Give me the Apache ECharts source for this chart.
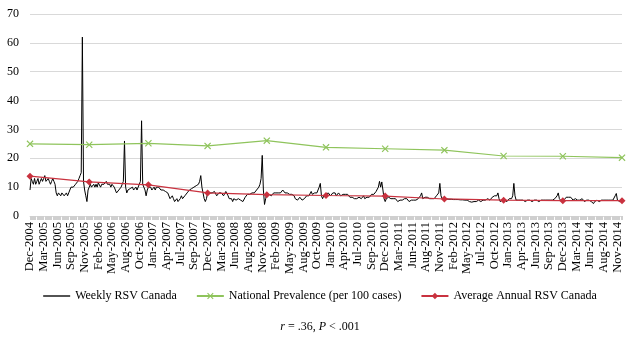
<!DOCTYPE html>
<html>
<head>
<meta charset="utf-8">
<script src="https://cdn.jsdelivr.net/npm/echarts@6/dist/echarts.min.js"></script>
<style>
html,body{margin:0;padding:0;background:#fff;}
#chart{width:640px;height:342px;}
</style>
</head>
<body>
<div id="chart"></div>
<script>
// Tick labels shown on the x axis (every 12th week)
const tickLabels = ["Dec-2004","Mar-2005","Jun-2005","Sep-2005","Nov-2005","Feb-2006","May-2006","Aug-2006","Oct-2006","Jan-2007","Apr-2007","Jul-2007","Sep-2007","Dec-2007","Mar-2008","Jun-2008","Aug-2008","Nov-2008","Feb-2009","May-2009","Aug-2009","Oct-2009","Jan-2010","Apr-2010","Jul-2010","Sep-2010","Dec-2010","Mar-2011","Jun-2011","Aug-2011","Nov-2011","Feb-2012","May-2012","Jul-2012","Oct-2012","Jan-2013","Apr-2013","Jun-2013","Sep-2013","Dec-2013","Mar-2014","Jun-2014","Aug-2014","Nov-2014"];

// Weekly RSV Canada, one array per 52-week block
const weeklyY1 = [9,13,12,11,13,11,12,13,11,12,13,12,13,14,12,12,13,12,11,12,13,12,11,
  8,7,8,7.5,7,8,8,7,7.5,8,7,8,9,10,
  10,10,10.5,11,11,12,13,14,
  15,62,12,9,7,5,9];
const weeklyY2 = [10,11,10,10.5,11,10,11,10,11.5,11,10,11,10.5,11,11,12,11,10.5,11,10,11,11.5,10,9,
  8,8,9,9,10,11,12,
  26,10,
  8,9,8.5,9.5,9,10,9,9.5,10,9,10,10.5,
  12,33,11,
  10,9,7,9];
const weeklyY3 = [10,9.5,10,9,9.5,10,9,10,9.5,10,10,9,9.5,9,8.5,8.5,9,8,7.5,
  6,6.5,7,6,5,5.5,6,5,5.5,6,7,6,6.5,7,7.5,8,8.5,9,9,
  9.5,9,10,10,10.5,10,11,12,
  14,10,8,6,5,6];
const weeklyY4 = [8,8.5,8,7.5,8,8,8.5,8,7,7.5,8,8.5,8,7.5,
  7,7.5,8.5,8,7,6,5.5,6,5,6,6.5,5.5,5,6,6.5,5.5,6,5,5.5,6.5,7,7.5,7,7.5,8,8,8.5,8,8.5,9,9.5,10,11,13,
  21,9,4,6];
const weeklyY5 = [7.5,8,7.5,8,7,7.5,8,8.5,8,7.5,8,8.5,8,8.5,9,8.5,8,7.5,8,8,7.5,7,7.5,8,7,
  6,6,5.5,6,6.5,6,5.5,6,6,6.5,7,6.5,7,
  7.5,8.5,7.5,7,8,7.5,8,9,10,11.3,
  7,6,7,7];
const weeklyY6 = [7.5,7,8,7.5,7,7.5,8,7.5,8,7,7.5,8,7.5,7,7.5,7.5,8,7.5,7,7.5,7,6.5,6,6.5,6,6,
  6.5,6,6,6.5,6,6,6.5,7,6,6,6.5,6,6.5,7,
  7.5,8,7.5,8,8.5,9,10,
  12,10,11.8,9,6];
const weeklyY7 = [5,6,
  6,6.5,6,6,6.5,6,6.5,6,5.5,5,5,5.5,5,5.5,6,6,6.5,6,5.5,5,5,5.5,6,5.5,5,5.5,5,6,6.5,7,
  8,6,
  6,6.5,6,6.5,6.5,6,6.5,6,6.5,6,6.5,7,7.5,8,
  11.3,7,6,5.5];
const weeklyY8 = [5.9,
  5.9,5.9,5.8,5.8,5.8,5.8,5.8,5.7,5.7,5.7,5.7,5.7,5.7,5.6,5.6,5.6,5.6,5.5,
  5.5,5.5,5,5,5,4.8,5,5,5,5,5.5,5.5,5,5,5.5,5.5,5,5.5,5.5,6,6,5.5,6,6.5,6,7,6.5,7,
  8,6,5,
  5.5,5.5];
const weeklyY9 = [5,5.5,5.5,5,5.5,6,5.5,6,7,
  11.3,7,5.5,
  5.5,5.5,5,5.5,5,5.5,5.5,5,5,5.5,5,5.5,5.5,5,5.5,5.5,6,5.5,5.5,5,
  5,5.5,5,5.5,5,5.5,5.5,5.5,6,5.5,6,5.5,6,6,6.5,
  7,8,6,5.5,5];
const weeklyY10 = [5,
  5.5,6,6.5,6,6.5,6,6.5,6,5.5,5.5,6,
  5.5,5.5,5,5.5,5.5,6,5.5,5,5.5,5.5,5,5.5,5,5,4.5,
  4.3,5,
  5.5,5.5,5.5,5,5.5,5.5,5.5,5.5,5.5,5.5,5,5.5,5.5,5.5,5.5,5.5,6,
  7,7.8,5.5,5.5,5,5,5.5];

// Yearly values (one per 52 weeks, starting at the first week)
const nationalPrevalence = [25.0, 24.7, 25.2, 24.3, 26.1, 23.8, 23.3, 22.8, 20.8, 20.7, 20.2];
const averageAnnualRSV   = [13.8, 11.8, 10.8, 8.0, 7.4, 7.1, 6.9, 5.9, 5.5, 5.3, 5.3];

const weekly = [].concat(weeklyY1, weeklyY2, weeklyY3, weeklyY4, weeklyY5,
                         weeklyY6, weeklyY7, weeklyY8, weeklyY9, weeklyY10);
const categories = weekly.map((_, i) => String(i));
function yearly(vals) {
  const arr = new Array(weekly.length).fill(null);
  vals.forEach((v, k) => { const idx = Math.min(k * 52, weekly.length - 1); arr[idx] = v; });
  return arr;
}

const FONT = '"Liberation Serif", "Times New Roman", serif';
const chart = echarts.init(document.getElementById('chart'), null, {renderer: 'canvas'});
const crossPath = 'path://M0,1.2L1.2,0L5,3.8L8.8,0L10,1.2L6.2,5L10,8.8L8.8,10L5,6.2L1.2,10L0,8.8L3.8,5Z';
const linePath = 'path://M0,0L40,0L40,2L0,2Z';

chart.setOption({
  animation: false,
  backgroundColor: '#fff',
  textStyle: {fontFamily: FONT},
  grid: {left: 30, right: 18, top: 14, bottom: 126, containLabel: false},
  title: {
    text: '{i|r} = .36, {i|P} < .001',
    left: 'center', top: 316,
    textStyle: {
      fontFamily: FONT, fontSize: 12, fontWeight: 'normal', color: '#000',
      rich: {i: {fontFamily: FONT, fontSize: 12, fontStyle: 'italic', color: '#000'}}
    }
  },
  legend: {
    bottom: 35, left: 'center',
    itemWidth: 27, itemHeight: 8, itemGap: 19,
    textStyle: {fontFamily: FONT, fontSize: 12, color: '#000'},
    data: [
      {name: 'Weekly RSV Canada', icon: linePath, itemStyle: {color: '#000'}},
      'National Prevalence (per 100 cases)',
      'Average Annual RSV Canada'
    ]
  },
  xAxis: {
    type: 'category',
    data: categories,
    boundaryGap: false,
    axisLine: {show: true, lineStyle: {color: '#d9d9d9', width: 1}},
    axisTick: {show: true, interval: 0, length: 4, lineStyle: {color: '#cfcfcf'}},
    axisLabel: {
      interval: 11, rotate: 90, margin: 6,
      fontFamily: FONT, fontSize: 12.5, color: '#000',
      formatter: (v, i) => tickLabels[Math.round(i / 12)] || ''
    },
    splitLine: {show: false}
  },
  yAxis: {
    type: 'value', min: 0, max: 70, interval: 10,
    axisLine: {show: false}, axisTick: {show: false},
    axisLabel: {fontFamily: FONT, fontSize: 12, color: '#000', margin: 11},
    splitLine: {lineStyle: {color: '#d9d9d9', width: 1}}
  },
  series: [
    {
      name: 'Weekly RSV Canada', type: 'line', data: weekly,
      symbol: 'none', showSymbol: false, lineStyle: {color: '#000', width: 1}, itemStyle: {color: '#000'}, z: 2
    },
    {
      name: 'National Prevalence (per 100 cases)', type: 'line', data: yearly(nationalPrevalence),
      connectNulls: true, symbol: crossPath, symbolSize: 7, showAllSymbol: true,
      lineStyle: {color: '#8fc45c', width: 1.2}, itemStyle: {color: '#8fc45c'}, z: 3
    },
    {
      name: 'Average Annual RSV Canada', type: 'line', data: yearly(averageAnnualRSV),
      connectNulls: true, symbol: 'diamond', symbolSize: 7, showAllSymbol: true,
      lineStyle: {color: '#c9323f', width: 1.2}, itemStyle: {color: '#c9323f'}, z: 4
    }
  ]
});
</script>
</body>
</html>
